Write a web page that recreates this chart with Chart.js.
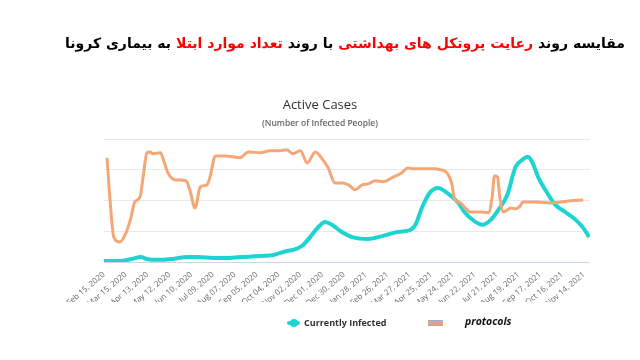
<!DOCTYPE html>
<html>
<head>
<meta charset="utf-8">
<script src="https://cdn.jsdelivr.net/npm/chart.js@4"></script>
<style>
  html, body { margin: 0; padding: 0; background: #fff; }
  #wrap { position: relative; width: 640px; height: 360px; overflow: hidden; }
  #chart { position: absolute; left: 0; top: 0; }
  .txt { position: absolute; white-space: nowrap; }
  #fa { top: 35px; left: 45px; width: 600px; text-align: center; direction: rtl;
        font-family: "DejaVu Sans", sans-serif; font-weight: bold; font-size: 14px; color: #000; }
  #fa .r { color: #ff0000; }
  #t1 { top: 95px; left: 0; width: 640px; text-align: center; font-family: "Open Sans", sans-serif; font-size: 13px; color: #333; }
  #t2 { top: 117px; left: 0; width: 640px; text-align: center; font-family: "Open Sans", sans-serif; font-size: 8.5px; font-weight: 600; color: #666; }
  #lg1 { top: 316px; left: 304px; font-family: "Open Sans", sans-serif; font-weight: bold; font-size: 9px; color: #333; }
  #lg2 { top: 314px; left: 465px; font-family: "Open Sans", sans-serif; font-weight: bold; font-style: italic; font-size: 10.5px; color: #111; }
  #ic1 { position: absolute; left: 287px; top: 321px; width: 13px; height: 4px; background: #1ed4d0; border-radius: 2px; }
  #ic1b { position: absolute; left: 290px; top: 319px; width: 8px; height: 8px; background: #1ed4d0; border-radius: 50%; }
  #ic2 { position: absolute; left: 428px; top: 320px; width: 15px; height: 4px; background: #e9a07e; border-top: 1px solid #9ca8d4; border-bottom: 1px solid #9ca8d4; }
</style>
</head>
<body>
<div id="wrap">
  <canvas id="chart" width="640" height="360"></canvas>
  <div class="txt" id="fa">مقایسه روند <span class="r">رعایت پروتکل های بهداشتی</span> با روند <span class="r">تعداد موارد ابتلا</span> به بیماری کرونا</div>
  <div class="txt" id="t1">Active Cases</div>
  <div class="txt" id="t2">(Number of Infected People)</div>
  <div id="ic1"></div><div id="ic1b"></div>
  <div class="txt" id="lg1">Currently Infected</div>
  <div id="ic2"></div>
  <div class="txt" id="lg2">protocols</div>
</div>
<script>
// Tick labels (every 29 days from Feb 15, 2020)
const tickLabels = ["Feb 15, 2020","Mar 15, 2020","Apr 13, 2020","May 12, 2020","Jun 10, 2020","Jul 09, 2020",
  "Aug 07, 2020","Sep 05, 2020","Oct 04, 2020","Nov 02, 2020","Dec 01, 2020","Dec 30, 2020","Jan 28, 2021",
  "Feb 26, 2021","Mar 27, 2021","Apr 25, 2021","May 24, 2021","Jun 22, 2021","Jul 21, 2021","Aug 19, 2021",
  "Sep 17, 2021","Oct 16, 2021","Nov 14, 2021"];
const tickStepDays = 29;

// Currently Infected (day since Feb 15, 2020 ; relative level)
const infectedDays = [0,21,37,49,57,75,92,110,125,145,161,181,212,225,243,251,263,274,285,294,303,314,330,351,371,391,407,414,423,434,444,456,470,480,487,503,514,524,536,547,556,563,569,577,589,600,613,627,637,645];
const infectedValues = [0.03,0.03,0.10,0.16,0.10,0.07,0.10,0.16,0.16,0.13,0.13,0.16,0.20,0.23,0.36,0.39,0.52,0.81,1.14,1.30,1.21,1.01,0.81,0.75,0.85,0.98,1.04,1.21,1.79,2.28,2.41,2.25,1.95,1.60,1.43,1.21,1.37,1.69,2.18,3.09,3.32,3.42,3.26,2.77,2.25,1.86,1.63,1.37,1.11,0.81];

// protocols
const protocolDays = [4,8,13,21,28,35,41,48,52,57,61,65,75,79,85,95,109,114,121,128,137,141,148,161,181,192,208,221,234,243,251,261,270,281,287,298,307,317,325,334,343,351,361,371,385,396,404,411,438,447,456,462,466,474,480,487,500,511,516,519,523,526,531,536,540,547,552,557,576,593,607,620,637];
const protocolValues = [3.39,2.02,0.81,0.65,0.88,1.37,1.95,2.12,2.77,3.55,3.58,3.52,3.55,3.32,2.90,2.67,2.64,2.35,1.76,2.44,2.51,2.77,3.45,3.45,3.39,3.58,3.55,3.62,3.62,3.65,3.52,3.62,3.22,3.58,3.45,3.06,2.57,2.57,2.51,2.35,2.51,2.54,2.64,2.61,2.77,2.90,3.06,3.03,3.03,3.00,2.90,2.57,2.05,1.92,1.76,1.63,1.63,1.60,2.12,2.80,2.77,2.12,1.63,1.69,1.76,1.73,1.79,1.95,1.95,1.92,1.95,1.99,2.02];

const toXY = (xs, ys) => xs.map((x, i) => ({ x: x, y: ys[i] }));

new Chart(document.getElementById('chart'), {
  type: 'line',
  data: {
    datasets: [
      { label: 'protocols', data: toXY(protocolDays, protocolValues), borderColor: '#f4a675', borderWidth: 3,
        pointRadius: 0, cubicInterpolationMode: 'monotone', fill: false },
      { label: 'Currently Infected', data: toXY(infectedDays, infectedValues), borderColor: '#1ed4d0', borderWidth: 4,
        pointRadius: 0, cubicInterpolationMode: 'monotone', fill: false }
    ]
  },
  options: {
    responsive: false, animation: false,
    layout: { padding: { left: 104, right: 50, top: 139, bottom: 58 } },
    plugins: { legend: { display: false }, title: { display: false }, tooltip: { enabled: false } },
    scales: {
      x: {
        type: 'linear', min: 0, max: 646,
        grid: { display: false }, border: { display: false },
        afterBuildTicks: s => { s.ticks = tickLabels.map((_, i) => ({ value: i * tickStepDays })); },
        afterFit: s => { s.height = 40; },
        ticks: {
          autoSkip: false, minRotation: 40, maxRotation: 40, padding: 0,
          color: '#666', font: { family: 'Open Sans', size: 8 },
          callback: v => tickLabels[Math.round(v / tickStepDays)]
        }
      },
      y: {
        min: 0, max: 4,
        afterFit: s => { s.width = 0; },
        ticks: { display: false, stepSize: 1 },
        border: { display: false },
        grid: { drawTicks: false, lineWidth: 1,
          color: c => c.tick && c.tick.value === 0 ? '#ccd6eb' : '#e8e8ee' }
      }
    }
  }
});
</script>
</body>
</html>
